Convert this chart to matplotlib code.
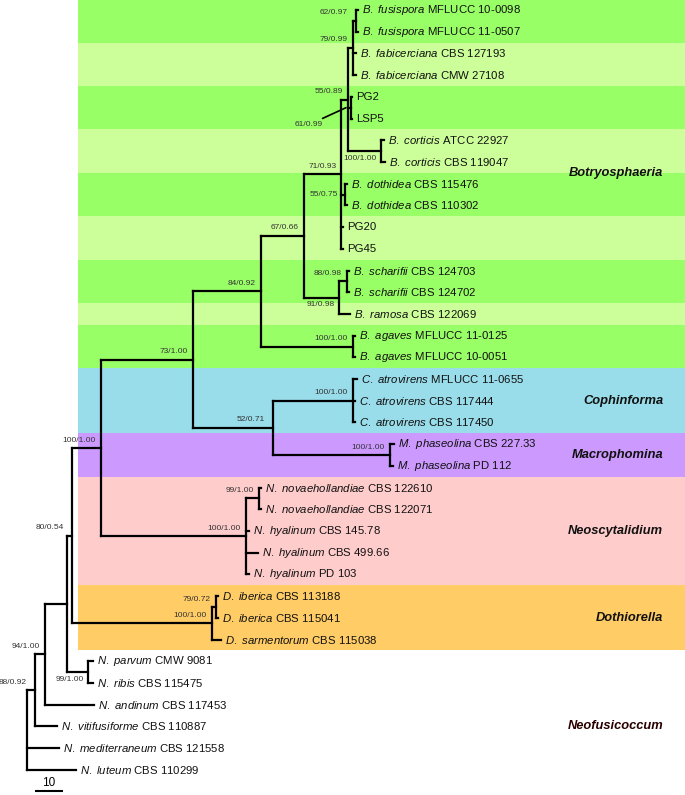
import numpy as np
import matplotlib.pyplot as plt
from matplotlib.collections import LineCollection
from matplotlib.patches import Rectangle
import matplotlib.transforms as mtransforms

plt.rcParams['font.family'] = 'Liberation Sans'
plt.rcParams['mathtext.fontset'] = 'custom'
plt.rcParams['mathtext.rm'] = 'Liberation Sans'
plt.rcParams['mathtext.it'] = 'Liberation Sans:italic'
plt.rcParams['mathtext.bf'] = 'Liberation Sans:bold'

# ---- tips, top to bottom ----
species = ['B. fusispora', 'B. fusispora', 'B. fabicerciana', 'B. fabicerciana',
           '', '', 'B. corticis', 'B. corticis', 'B. dothidea', 'B. dothidea',
           '', '', 'B. scharifii', 'B. scharifii', 'B. ramosa',
           'B. agaves', 'B. agaves',
           'C. atrovirens', 'C. atrovirens', 'C. atrovirens',
           'M. phaseolina', 'M. phaseolina',
           'N. novaehollandiae', 'N. novaehollandiae',
           'N. hyalinum', 'N. hyalinum', 'N. hyalinum',
           'D. iberica', 'D. iberica', 'D. sarmentorum',
           'N. parvum', 'N. ribis', 'N. andinum', 'N. vitifusiforme',
           'N. mediterraneum', 'N. luteum']
strains = ['MFLUCC 10-0098', 'MFLUCC 11-0507', 'CBS 127193', 'CMW 27108',
           'PG2', 'LSP5', 'ATCC 22927', 'CBS 119047', 'CBS 115476', 'CBS 110302',
           'PG20', 'PG45', 'CBS 124703', 'CBS 124702', 'CBS 122069',
           'MFLUCC 11-0125', 'MFLUCC 10-0051',
           'MFLUCC 11-0655', 'CBS 117444', 'CBS 117450',
           'CBS 227.33', 'PD 112',
           'CBS 122610', 'CBS 122071',
           'CBS 145.78', 'CBS 499.66', 'PD 103',
           'CBS 113188', 'CBS 115041', 'CBS 115038',
           'CMW 9081', 'CBS 115475', 'CBS 117453', 'CBS 110887',
           'CBS 121558', 'CBS 110299']
tip_parent = [12, 12, 11, 11, 13, 13, 14, 14, 15, 15, 9, 9, 17, 17, 16,
              18, 18, 20, 20, 20, 21, 21, 23, 23, 22, 22, 22,
              25, 25, 24, 26, 26, 2, 1, 0, 0]
# distance from root (substitution units)
tip_depth = [118.2, 118.2, 117.5, 117.5, 116.1, 116.1, 127.6, 127.8, 114.3, 114.3,
             112.9, 112.9, 115.0, 115.0, 115.4, 117.1, 117.1,
             117.9, 117.1, 117.1, 131.1, 130.7, 83.6, 83.6,
             79.3, 82.5, 79.3, 68.2, 68.2, 69.3,
             23.6, 23.6, 23.9, 10.7, 11.4, 17.5]

# ---- internal nodes (parent index, depth, support) ----
node_parent = [-1, 0, 1, 2, 3, 4, 5, 6, 7, 8, 9, 10, 11, 10, 10, 9, 8, 16,
               7, 6, 19, 19, 5, 22, 4, 24, 3]
node_depth = [0.0, 2.9, 6.4, 14.3, 16.1, 26.4, 59.3, 83.6, 98.9, 112.3, 114.6,
              116.4, 117.5, 115.7, 126.4, 113.4, 111.4, 114.3, 116.4, 87.9,
              116.4, 129.6, 78.2, 82.9, 66.1, 67.5, 21.8]
node_support = ['', '88/0.92', '94/1.00', '', '80/0.54', '100/1.00', '73/1.00',
                '84/0.92', '67/0.66', '71/0.93', '55/0.89', '79/0.99', '62/0.97',
                '61/0.99', '100/1.00', '55/0.75', '91/0.98', '88/0.98', '100/1.00',
                '52/0.71', '100/1.00', '100/1.00', '100/1.00', '99/1.00',
                '100/1.00', '79/0.72', '99/1.00']
support_side = ['a', 'A', 'a', 'a', 'A', 'a', 'a', 'a', 'a', 'a', 'a', 'a', 'A',
                'p', 'b', 'm', 'b', 'a', 'a', 'A', 'a', 'a', 'a', 'a', 'a', 'a', 'b']

# ---- clade shading ----
band_first = [0, 2, 4, 6, 8, 10, 12, 14, 15, 17, 20, 22, 27]
band_last = [1, 3, 5, 7, 9, 11, 13, 14, 16, 19, 21, 26, 29]
band_color = ['#99ff66', '#ccff99', '#99ff66', '#ccff99', '#99ff66', '#ccff99',
              '#99ff66', '#ccff99', '#99ff66', '#99dcea', '#cc99ff', '#ffcccc', '#ffcc66']

genera = ['Botryosphaeria', 'Cophinforma', 'Macrophomina', 'Neoscytalidium',
          'Dothiorella', 'Neofusicoccum']
genus_row = [7.5, 18, 20.5, 24, 28, 33]
genus_color = ['#111111', '#111111', '#111111', '#111111', '#111111', '#2a0000']

# ---- node y positions ----
n_nodes = len(node_parent)
child_y = [[] for _ in range(n_nodes)]
for i, p in enumerate(tip_parent):
    child_y[p].append(i)
node_y = np.zeros(n_nodes)
for k in range(n_nodes - 1, -1, -1):
    node_y[k] = (min(child_y[k]) + max(child_y[k])) / 2
    if node_parent[k] >= 0:
        child_y[node_parent[k]].append(node_y[k])

# ---- figure ----
fig = plt.figure(figsize=(6.85, 7.95), dpi=100)
ax = fig.add_axes([0, 0, 1, 1])
px_per_unit = 2.8
px_per_row = 21.71
ax.set_xlim(-27 / px_per_unit, (685 - 27) / px_per_unit)
ax.set_ylim((795 - 10) / px_per_row, -10 / px_per_row)
ax.axis('off')

band_left = (78 - 27) / px_per_unit
for f, l, c in zip(band_first, band_last, band_color):
    ax.add_patch(Rectangle((band_left, f - 0.5), 300, l - f + 1,
                           facecolor=c, edgecolor='none', zorder=0))

segs = []
for i, p in enumerate(tip_parent):
    segs.append([(node_depth[p], i), (tip_depth[i], i)])
for k in range(n_nodes):
    if node_parent[k] >= 0:
        segs.append([(node_depth[node_parent[k]], node_y[k]), (node_depth[k], node_y[k])])
    segs.append([(node_depth[k], min(child_y[k])), (node_depth[k], max(child_y[k]))])
ax.add_collection(LineCollection(segs, colors='black', linewidths=1.6,
                                 capstyle='projecting', zorder=2))

# tip labels
for i in range(len(strains)):
    if species[i]:
        lab = r'$\mathit{' + species[i].replace(' ', r'\ ') + '}$ ' + strains[i]
    else:
        lab = strains[i]
    ax.annotate(lab, xy=(tip_depth[i], i), xytext=(3, 0), textcoords='offset points',
                ha='left', va='center', fontsize=8.2, color='#111111', zorder=3)

# support values (offsets in pixels)
offs = {'a': (-5, 8), 'A': (-8, 8), 'b': (-4, -7), 'm': (-6.5, 0)}
for k in range(n_nodes):
    if not node_support[k]:
        continue
    side = support_side[k]
    if side == 'p':
        ax.annotate(node_support[k], xy=(node_depth[k] - 5 / px_per_unit, node_y[k]),
                    xytext=(-23 * 0.72, -17 * 0.72), textcoords='offset points',
                    ha='right', va='center', fontsize=6, color='#333333',
                    arrowprops=dict(arrowstyle='-', color='black', lw=1.2,
                                    shrinkA=0, shrinkB=0), zorder=3)
        continue
    dx, dy = offs[side]
    ax.annotate(node_support[k], xy=(node_depth[k], node_y[k]),
                xytext=(dx * 0.72, dy * 0.72), textcoords='offset points',
                ha='right', va='center', fontsize=6, color='#333333', zorder=3)

# genus labels
trans = mtransforms.blended_transform_factory(ax.transAxes, ax.transData)
for g, r, c in zip(genera, genus_row, genus_color):
    ax.text(0.968, r, g, transform=trans, ha='right', va='center', fontsize=9.3,
            fontweight='bold', fontstyle='italic', color=c, zorder=3)

# scale bar
bar_x0 = (35 - 27) / px_per_unit
ax.plot([bar_x0, bar_x0 + 10], [35.97, 35.97], color='black', lw=1.5,
        solid_capstyle='butt')
ax.text(bar_x0 + 5, 35.6, '10', ha='center', va='center', fontsize=8.5)

fig.savefig('out.png', dpi=100)
